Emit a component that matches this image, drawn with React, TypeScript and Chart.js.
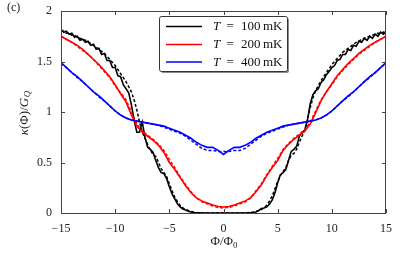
import { useEffect, useRef } from "react";
import { Chart, registerables } from "chart.js";

Chart.register(...registerables);

const X_FINE = [
  -15, -14.75, -14.5, -14.25, -14, -13.75, -13.5, -13.25, -13, -12.75, -12.5, -12.25, -12, -11.75, -11.5, -11.25,
  -11, -10.75, -10.5, -10.25, -10, -9.75, -9.5, -9.25, -9, -8.75, -8.5, -8.25, -8, -7.75, -7.5, -7.25,
  -7, -6.75, -6.5, -6.25, -6, -5.75, -5.5, -5.25, -5, -4.75, -4.5, -4.25, -4, -3.75, -3.5, -3.25,
  -3, -2.75, -2.5, -2.25, -2, -1.75, -1.5, -1.25, -1, -0.75, -0.5, -0.25, 0,
  0.25, 0.5, 0.75, 1, 1.25, 1.5, 1.75, 2, 2.25, 2.5, 2.75, 3, 3.25, 3.5, 3.75,
  4, 4.25, 4.5, 4.75, 5, 5.25, 5.5, 5.75, 6, 6.25, 6.5, 6.75, 7, 7.25, 7.5, 7.75,
  8, 8.25, 8.5, 8.75, 9, 9.25, 9.5, 9.75, 10, 10.25, 10.5, 10.75, 11, 11.25, 11.5, 11.75,
  12, 12.25, 12.5, 12.75, 13, 13.25, 13.5, 13.75, 14, 14.25, 14.5, 14.75, 15,
];

const X_COARSE = [
  -15, -14.5, -14, -13.5, -13, -12.5, -12, -11.5, -11, -10.5, -10, -9.5, -9, -8.5, -8, -7.5,
  -7, -6.5, -6, -5.5, -5, -4.5, -4, -3.5, -3, -2.5, -2, -1.5, -1, -0.5, 0,
  0.5, 1, 1.5, 2, 2.5, 3, 3.5, 4, 4.5, 5, 5.5, 6, 6.5, 7, 7.5,
  8, 8.5, 9, 9.5, 10, 10.5, 11, 11.5, 12, 12.5, 13, 13.5, 14, 14.5, 15,
];

// T = 100 mK, solid
const T100_SOLID = [
  1.82, 1.79, 1.8, 1.77, 1.78, 1.74, 1.75, 1.71, 1.72, 1.69, 1.7, 1.66, 1.67, 1.62, 1.63, 1.57,
  1.58, 1.51, 1.51, 1.44, 1.44, 1.36, 1.35, 1.27, 1.23, 1.19, 1.07, 0.92, 0.8, 0.8, 0.9, 0.75,
  0.65, 0.63, 0.6, 0.52, 0.45, 0.4, 0.39, 0.34, 0.26, 0.19, 0.14, 0.09, 0.06, 0.04, 0.03, 0.018,
  0.01, 0.005, 0.002, 0.001, 0, 0, 0, 0, 0, 0, 0, 0, 0,
  0, 0, 0, 0, 0, 0, 0, 0, 0.001, 0.002, 0.004, 0.01, 0.025, 0.045, 0.05,
  0.06, 0.09, 0.13, 0.2, 0.3, 0.38, 0.4, 0.43, 0.52, 0.61, 0.63, 0.66, 0.76, 0.8, 0.82, 0.92,
  1.08, 1.17, 1.21, 1.23, 1.29, 1.32, 1.37, 1.4, 1.44, 1.46, 1.51, 1.52, 1.57, 1.57, 1.62, 1.61,
  1.66, 1.65, 1.7, 1.69, 1.73, 1.71, 1.75, 1.73, 1.77, 1.75, 1.79, 1.77, 1.79,
];

// T = 100 mK, dashed
const T100_DASHED = [
  1.8, 1.8, 1.78, 1.78, 1.76, 1.76, 1.74, 1.73, 1.72, 1.71, 1.69, 1.68, 1.66, 1.64, 1.62, 1.6,
  1.58, 1.55, 1.52, 1.49, 1.46, 1.42, 1.38, 1.34, 1.3, 1.25, 1.2, 1.12, 1.02, 0.9, 0.8, 0.74,
  0.68, 0.62, 0.58, 0.56, 0.5, 0.44, 0.4, 0.36, 0.29, 0.22, 0.16, 0.11, 0.075, 0.05, 0.035, 0.025,
  0.016, 0.01, 0.006, 0.003, 0.001, 0, 0, 0, 0, 0, 0, 0, 0,
  0, 0, 0, 0, 0, 0, 0, 0.001, 0.003, 0.006, 0.01, 0.016, 0.025, 0.035, 0.05,
  0.08, 0.12, 0.17, 0.24, 0.31, 0.37, 0.41, 0.45, 0.52, 0.57, 0.59, 0.63, 0.7, 0.76, 0.82, 0.92,
  1.04, 1.14, 1.21, 1.26, 1.31, 1.35, 1.39, 1.43, 1.47, 1.5, 1.53, 1.56, 1.59, 1.61, 1.63, 1.65,
  1.67, 1.69, 1.7, 1.72, 1.73, 1.74, 1.75, 1.76, 1.77, 1.78, 1.78, 1.79, 1.8,
];

// T = 200 mK
const T200_SOLID = [
  1.75, 1.72, 1.69, 1.66, 1.62, 1.57, 1.52, 1.47, 1.41, 1.35, 1.27, 1.18, 1.1, 0.97, 0.86, 0.8,
  0.76, 0.72, 0.67, 0.6, 0.5, 0.43, 0.35, 0.27, 0.2, 0.15, 0.12, 0.1, 0.08, 0.065, 0.06,
  0.065, 0.08, 0.1, 0.12, 0.15, 0.21, 0.28, 0.37, 0.45, 0.52, 0.62, 0.68, 0.73, 0.77, 0.81,
  0.88, 0.99, 1.11, 1.2, 1.28, 1.36, 1.42, 1.48, 1.53, 1.58, 1.62, 1.66, 1.69, 1.72, 1.75,
];

const T200_DASHED = [
  1.75, 1.72, 1.69, 1.65, 1.61, 1.57, 1.52, 1.46, 1.4, 1.34, 1.26, 1.19, 1.12, 1.0, 0.88, 0.81,
  0.77, 0.73, 0.68, 0.62, 0.53, 0.45, 0.36, 0.28, 0.21, 0.15, 0.11, 0.09, 0.07, 0.055, 0.05,
  0.055, 0.07, 0.09, 0.11, 0.15, 0.22, 0.29, 0.38, 0.46, 0.54, 0.63, 0.69, 0.74, 0.78, 0.82,
  0.9, 1.01, 1.12, 1.2, 1.27, 1.35, 1.41, 1.47, 1.52, 1.57, 1.61, 1.65, 1.69, 1.72, 1.75,
];

// T = 400 mK
const T400_SOLID = [
  1.49, 1.44, 1.39, 1.35, 1.3, 1.25, 1.2, 1.16, 1.11, 1.06, 1.01, 0.97, 0.94, 0.92, 0.91, 0.9,
  0.89, 0.88, 0.87, 0.86, 0.84, 0.82, 0.8, 0.77, 0.74, 0.7, 0.67, 0.65, 0.65, 0.62, 0.58,
  0.62, 0.65, 0.65, 0.67, 0.7, 0.74, 0.77, 0.8, 0.82, 0.84, 0.86, 0.87, 0.88, 0.89, 0.9,
  0.91, 0.92, 0.94, 0.97, 1.01, 1.06, 1.11, 1.16, 1.2, 1.25, 1.3, 1.35, 1.39, 1.44, 1.49,
];

const T400_DASHED = [
  1.48, 1.44, 1.39, 1.34, 1.3, 1.25, 1.2, 1.15, 1.11, 1.06, 1.01, 0.97, 0.94, 0.92, 0.91, 0.9,
  0.89, 0.88, 0.87, 0.85, 0.83, 0.81, 0.79, 0.76, 0.72, 0.68, 0.64, 0.62, 0.62, 0.61, 0.61,
  0.61, 0.62, 0.62, 0.64, 0.68, 0.72, 0.76, 0.79, 0.81, 0.83, 0.85, 0.87, 0.88, 0.89, 0.9,
  0.91, 0.92, 0.94, 0.97, 1.01, 1.06, 1.11, 1.15, 1.2, 1.25, 1.3, 1.34, 1.39, 1.44, 1.48,
];

const LEGEND_LABELS = ["100", "200", "400"];
const COLORS = ["#000000", "#ff0000", "#0000ff"];
const X_TICKS = [-15, -10, -5, 0, 5, 10, 15];
const Y_TICKS = [0, 0.5, 1, 1.5, 2];

const FONT = "'Liberation Serif', 'DejaVu Serif', serif";

function zip(xs: number[], ys: number[]) {
  return xs.map((x, i) => ({ x, y: ys[i] }));
}

const decorPlugin = {
  id: "decor",
  afterDraw(chart: any) {
    const { ctx, chartArea } = chart;
    const { left, right, top, bottom } = chartArea;
    const xs = chart.scales.x;
    const ys = chart.scales.y;
    ctx.save();
    // frame
    ctx.strokeStyle = "#444";
    ctx.lineWidth = 1;
    ctx.strokeRect(Math.round(left) + 0.5, Math.round(top) + 0.5, Math.round(right - left) - 1, Math.round(bottom - top));
    // inward ticks
    ctx.beginPath();
    X_TICKS.forEach((t) => {
      const px = Math.round(xs.getPixelForValue(t)) + 0.5;
      ctx.moveTo(px, bottom);
      ctx.lineTo(px, bottom - 4);
      ctx.moveTo(px, top);
      ctx.lineTo(px, top + 4);
    });
    Y_TICKS.forEach((t) => {
      const py = Math.round(ys.getPixelForValue(t)) + 0.5;
      ctx.moveTo(left, py);
      ctx.lineTo(left + 4, py);
      ctx.moveTo(right, py);
      ctx.lineTo(right - 4, py);
    });
    ctx.stroke();

    // panel label
    ctx.fillStyle = "#222";
    ctx.font = `12px ${FONT}`;
    ctx.textBaseline = "middle";
    ctx.textAlign = "left";
    ctx.fillText("(c)", 7, 8);

    // x title
    const xa = "Φ/Φ";
    ctx.font = `13px ${FONT}`;
    const wA = ctx.measureText(xa).width;
    ctx.font = `9px ${FONT}`;
    const wB = ctx.measureText("0").width;
    const sx = 224 - (wA + wB) / 2;
    ctx.font = `13px ${FONT}`;
    ctx.fillText(xa, sx, 242);
    ctx.font = `9px ${FONT}`;
    ctx.fillText("0", sx + wA, 246);

    // y title (rotated)
    ctx.save();
    ctx.translate(25, 113);
    ctx.rotate(-Math.PI / 2);
    const parts: [string, string, number][] = [
      ["κ", `italic 13px ${FONT}`, 0],
      ["(Φ)/", `13px ${FONT}`, 0],
      ["G", `italic 13px ${FONT}`, 0],
      ["Q", `italic 9px ${FONT}`, 3],
    ];
    let total = 0;
    parts.forEach(([s, f]) => {
      ctx.font = f;
      total += ctx.measureText(s).width + (s === "Q" ? 0.5 : 0);
    });
    let cx = -total / 2;
    parts.forEach(([s, f, dy]) => {
      ctx.font = f;
      if (s === "Q") cx += 0.5;
      ctx.fillText(s, cx, dy);
      cx += ctx.measureText(s).width;
    });
    ctx.restore();

    // legend
    const bx = 159.5, by = 16.5, bw = 128, bh = 55;
    ctx.fillStyle = "rgba(0,0,0,0.45)";
    ctx.beginPath();
    ctx.roundRect(bx + 1.5, by + 1.5, bw, bh, 2);
    ctx.fill();
    ctx.fillStyle = "#fff";
    ctx.strokeStyle = "#333";
    ctx.lineWidth = 1;
    ctx.beginPath();
    ctx.roundRect(bx, by, bw, bh, 2);
    ctx.fill();
    ctx.stroke();
    const rows = [26.5, 44.5, 62];
    LEGEND_LABELS.forEach((lab, i) => {
      const y = rows[i];
      ctx.strokeStyle = COLORS[i];
      ctx.lineWidth = 1.6;
      ctx.beginPath();
      ctx.moveTo(166, y);
      ctx.lineTo(202, y);
      ctx.stroke();
      ctx.fillStyle = "#111";
      ctx.textBaseline = "middle";
      ctx.font = `italic 13px ${FONT}`;
      ctx.fillText("T", 213, y + 0.5);
      ctx.font = `13px ${FONT}`;
      ctx.fillText("=", 226.5, y + 0.5);
      ctx.fillText(lab, 241, y + 0.5);
      ctx.fillText("mK", 263, y + 0.5);
    });
    ctx.restore();
  },
};

export default function App() {
  const ref = useRef<HTMLCanvasElement | null>(null);
  useEffect(() => {
    document.body.style.margin = "0";
    if (!ref.current) return;
    const solid = (data: any, color: string) => ({
      data,
      borderColor: color,
      borderWidth: 1.6,
      pointRadius: 0,
      fill: false,
      tension: 0,
    });
    const dashed = (data: any, color: string) => ({
      data,
      borderColor: color,
      borderWidth: 1.5,
      borderDash: [3, 2],
      pointRadius: 0,
      fill: false,
      tension: 0,
    });
    const chart = new Chart(ref.current, {
      type: "line",
      data: {
        datasets: [
          dashed(zip(X_COARSE, T400_DASHED), COLORS[2]),
          solid(zip(X_COARSE, T400_SOLID), COLORS[2]),
          dashed(zip(X_COARSE, T200_DASHED), COLORS[1]),
          solid(zip(X_COARSE, T200_SOLID), COLORS[1]),
          dashed(zip(X_FINE, T100_DASHED), COLORS[0]),
          solid(zip(X_FINE, T100_SOLID), COLORS[0]),
        ] as any,
      },
      options: {
        responsive: false,
        animation: false,
        layout: { padding: { top: 11, right: 21, left: 0, bottom: 0 } },
        plugins: { legend: { display: false }, tooltip: { enabled: false } },
        scales: {
          x: {
            type: "linear",
            min: -15,
            max: 15,
            afterFit: (s: any) => {
              s.height = 40;
              s.paddingLeft = 0;
              s.paddingRight = 0;
            },
            afterBuildTicks: (s: any) => {
              s.ticks = X_TICKS.map((v) => ({ value: v }));
            },
            grid: { display: false, drawTicks: false },
            border: { display: false },
            ticks: {
              padding: 9,
              color: "#222",
              font: { family: FONT, size: 12 },
              callback: (v: any) => (Number(v) < 0 ? "\u2212" + Math.abs(Number(v)) : String(v)),
            },
          },
          y: {
            type: "linear",
            min: 0,
            max: 2,
            afterFit: (s: any) => {
              s.width = 61;
              s.paddingTop = 0;
              s.paddingBottom = 0;
            },
            afterBuildTicks: (s: any) => {
              s.ticks = Y_TICKS.map((v) => ({ value: v }));
            },
            grid: { display: false, drawTicks: false },
            border: { display: false },
            ticks: {
              padding: 9,
              color: "#222",
              font: { family: FONT, size: 12 },
              callback: (v: any) => String(v),
            },
          },
        },
      },
      plugins: [decorPlugin],
    });
    return () => chart.destroy();
  }, []);
  return (
    <div style={{ width: 407, height: 253, position: "relative" }}>
      <canvas ref={ref} width={407} height={253} style={{ display: "block" }} />
    </div>
  );
}
